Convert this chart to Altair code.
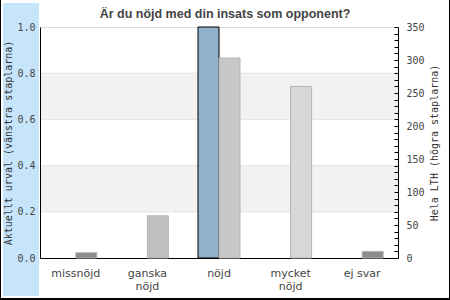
import altair as alt
import pandas as pd

categories = ["missnöjd", "ganska nöjd", "nöjd", "mycket nöjd", "ej svar"]
left_values = [0, 0, 1.0, 0, 0]
right_values = [8, 64, 303, 260, 10]
right_colors = ["#8c8c8c", "#c0c0c0", "#c8c8c8", "#d8d8d8", "#8c8c8c"]
stripe_lo = [0.2, 0.6]
stripe_hi = [0.4, 0.8]
grid_values = [0.2, 0.4, 0.6, 0.8]
left_ticks = [0, 0.2, 0.4, 0.6, 0.8, 1.0]
right_ticks = list(range(0, 351, 10))

W, H = 358, 231

bars = pd.DataFrame({"cat": categories, "left": left_values, "right": right_values})
stripes = pd.DataFrame({"lo": stripe_lo, "hi": stripe_hi})
grid = pd.DataFrame({"g": grid_values})
dummy = pd.DataFrame({"d": [0]})

mono = "DejaVu Sans Mono"
sans = "DejaVu Sans"

x_enc = alt.X(
    "cat:N", sort=categories, title=None,
    scale=alt.Scale(domain=categories, paddingInner=0, paddingOuter=0),
    axis=alt.Axis(
        labelExpr="datum.label == 'ej svar' ? datum.label : split(datum.label, ' ')",
        labelAngle=0, ticks=False, labelPadding=9, labelLineHeight=13,
        labelFont=sans, labelFontSize=11, labelColor="#444",
        domainColor="#000", labelBaseline="top",
    ),
)

left_scale = alt.Scale(domain=[0, 1], nice=False, zero=True)

band = alt.Chart(dummy).mark_rect(color="#c6e4fa").encode(
    x=alt.value(-37), x2=alt.value(-1), y=alt.value(-24), y2=alt.value(269)
)
border_r = alt.Chart(dummy).mark_rule(color="#000", strokeWidth=1).encode(
    x=alt.value(409.5), y=alt.value(-27), y2=alt.value(273)
)
border_l = alt.Chart(dummy).mark_rule(color="#000", strokeWidth=1).encode(
    x=alt.value(-39.5), y=alt.value(-27), y2=alt.value(273)
)
border_b = alt.Chart(dummy).mark_rule(color="#000", strokeWidth=2).encode(
    x=alt.value(-40), x2=alt.value(410), y=alt.value(272)
)

stripe_layer = alt.Chart(stripes).mark_rect(color="#f2f2f2").encode(
    y=alt.Y("lo:Q", scale=left_scale, axis=None),
    y2="hi:Q",
)
grid_layer = alt.Chart(grid).mark_rule(color="#e2e2e2", strokeWidth=1).encode(
    y=alt.Y("g:Q", scale=left_scale, axis=None)
)
left_bars = alt.Chart(bars).transform_filter("datum.left > 0").mark_bar(
    width=21, xOffset=-10.5, fill="#8fb1cc", stroke="#000", strokeWidth=1
).encode(
    x=x_enc,
    y=alt.Y(
        "left:Q", scale=left_scale,
        axis=alt.Axis(
            values=left_ticks, format=".1f", ticks=False, grid=False,
            labelFont=mono, labelFontSize=10, labelColor="#444", labelPadding=5,
            domainColor="#000", title="Aktuellt urval (vänstra staplarna)",
            titleFont=mono, titleFontSize=10, titleFontWeight="normal",
            titleColor="#333", titleX=-27, orient="left", zindex=1,
        ),
    ),
)

right_bars = alt.Chart(bars).mark_bar(
    width=21, xOffset=10.5, stroke="#b4b4b4", strokeWidth=1
).encode(
    x=x_enc,
    y=alt.Y(
        "right:Q",
        scale=alt.Scale(domain=[0, 350], nice=False),
        axis=alt.Axis(
            orient="left", offset=-W, values=right_ticks,
            labelExpr="datum.value % 50 === 0 ? datum.label : ''",
            tickSize=4, tickColor="#000", labelAlign="left", labelPadding=-12,
            labelFont=mono, labelFontSize=10, labelColor="#444",
            domainColor="#000", grid=False, zindex=1,
            title="Hela LTH (högra staplarna)", titleFont=mono, titleFontSize=10,
            titleFontWeight="normal", titleColor="#333", titleX=41,
        ),
    ),
    color=alt.Color("cat:N", scale=alt.Scale(domain=categories, range=right_colors), legend=None),
)

chart = alt.layer(
    band, border_l, border_r, border_b, stripe_layer, grid_layer, left_bars, right_bars
).resolve_scale(y="independent").properties(
    width=W, height=H,
    autosize=alt.AutoSizeParams(type="none"),
    padding={"left": 40, "top": 27, "right": 52, "bottom": 42},
    title=alt.TitleParams(
        "Är du nöjd med din insats som opponent?",
        font="Liberation Sans", fontSize=12.5, fontWeight="bold", color="#444",
        offset=6, dx=6, dy=27,
    ),
).configure_view(stroke="#000", strokeWidth=1).configure(background="#fff")

chart.save("out.html", embed_options={"renderer": "svg", "actions": False})
